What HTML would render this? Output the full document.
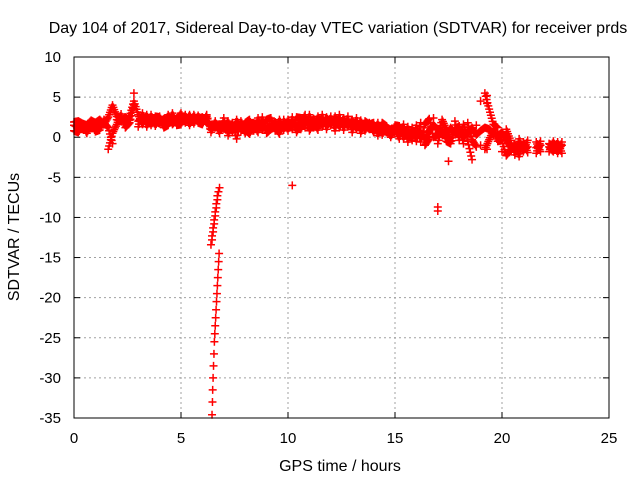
<!DOCTYPE html>
<html><head><meta charset="utf-8"><style>
body{margin:0;background:#fff}
svg{display:block;font-family:"Liberation Sans",sans-serif}
</style></head><body>
<svg id="chart" width="640" height="480">
<text x="338" y="33" font-size="16" text-anchor="middle">Day 104 of 2017, Sidereal Day-to-day VTEC variation (SDTVAR) for receiver prds</text>
<text x="0" y="0" font-size="16" text-anchor="middle" transform="translate(19,237) rotate(-90)">SDTVAR / TECUs</text>
<text x="340" y="471" font-size="16" text-anchor="middle">GPS time / hours</text>
<g id="grid"></g><g id="ticks"></g><g id="marks"></g>
<rect x="74" y="57" width="535" height="361" fill="none" stroke="#000" stroke-width="1"/>
</svg>
<script>
const xTicks=[0,5,10,15,20,25];
const yTicks=[10,5,0,-5,-10,-15,-20,-25,-30,-35];
const seriesA=[1.5,1.2,1.0,1.4,1.1,1.6,1.3,1.8,1.2,-0.8,
2.2,2.0,2.5,2.1,5.5,2.0,2.5,1.8,2.2,2.0,
1.7,2.3,2.0,2.6,1.9,2.4,2.2,2.6,2.0,2.3,
2.5,2.0,1.4,1.2,1.5,1.6,0.8,1.3,1.0,1.6,
0.5,1.4,1.8,1.2,1.6,1.0,1.4,1.9,1.2,1.6,
1.3,1.8,1.5,1.0,2.0,1.6,2.3,1.5,2.0,1.8,
2.2,1.6,2.1,1.7,2.0,1.4,1.8,1.2,1.5,1.0,
1.3,0.9,1.2,0.6,1.0,0.8,0.5,1.0,0.3,0.7,
0.2,0.6,-0.3,0.8,1.5,1.0,0.5,0.2,1.2,0.5,
0.8,0.0,0.6,1.2,0.3,0.8,1.2,1.0,0.5,0.2,
0.6,-0.3,-1.2,-1.5,-1.0,-1.6,-1.2,null,-1.3,-1.0,
null,-0.8,-1.2,-1.5,-1.0];
const seriesB=[1.9,2.0,1.7,1.5,2.1,1.8,2.2,1.6,2.5,4.0,
2.6,2.4,1.8,2.6,4.5,2.8,1.6,2.8,1.5,2.6,
2.5,1.5,2.8,1.6,2.2,3.0,1.8,2.8,1.7,2.7,
1.8,2.6,1.0,1.8,1.0,1.2,2.0,0.6,2.2,0.8,
1.8,2.2,0.8,2.4,0.9,2.2,2.4,0.8,2.2,0.9,
2.2,1.0,2.5,2.4,1.2,2.8,1.2,2.6,1.3,2.5,
1.5,2.6,1.2,2.4,1.3,2.2,1.0,2.1,0.8,1.8,
0.6,1.8,0.3,1.4,0.2,1.5,1.4,-0.2,1.3,-0.4,
1.5,-0.6,1.6,2.3,0.0,0.3,2.2,1.0,-0.5,2.0,
-0.4,1.6,-0.5,-2.8,1.5,-1.0,5.5,3.5,1.6,1.2,
-1.8,1.0,-0.4,-2.2,-0.2,-1.8,-0.4,null,-2.0,-0.5,
null,-1.8,-0.5,-2.0,-0.6];
const seriesC=[0.8,0.6,1.5,0.5,1.7,0.7,0.9,2.2,-1.5,0.5,
1.6,2.9,1.2,1.8,4.0,1.3,3.0,1.3,2.8,1.4,
2.6,1.2,1.5,3.0,1.5,1.6,2.8,1.5,2.8,1.8,
1.6,2.8,0.6,2.0,0.5,2.4,0.2,1.8,-0.2,2.0,
1.0,0.4,1.5,0.6,2.5,0.5,1.0,1.3,0.4,2.2,
0.8,2.5,0.6,1.8,2.8,0.8,1.8,0.9,2.8,1.0,
2.6,0.8,2.8,0.9,2.6,0.6,2.4,0.5,2.0,1.6,
1.8,0.2,1.8,1.4,0.0,1.2,-0.2,1.6,-0.6,1.2,
-0.5,1.8,-1.0,-0.2,2.4,-0.8,1.2,-0.5,-0.8,1.0,
1.4,-0.8,1.8,-0.3,-1.2,4.5,-1.5,-0.3,0.9,-0.5,
-0.4,-2.3,-1.6,-0.8,-2.4,-0.6,-1.9,null,-0.6,-1.8,
null,-1.2,-1.8,-0.6,-2.0];
const gridHours=[];
for(let i=0;i<seriesA.length;i++) gridHours.push(i*0.2);
const dropHours1=[6.8,6.75,6.7,6.7,6.65,6.65,6.6,6.6,6.55,6.55,6.5,6.5,6.45,6.45,6.4];
const dropVals1=[-6.3,-6.8,-7.3,-7.8,-8.3,-8.8,-9.3,-9.8,-10.3,-10.8,-11.3,-11.8,-12.3,-12.8,-13.4];
const dropHours2=[6.78,6.76,6.74,6.72,6.7,6.68,6.66,6.64,6.62,6.6,6.58,6.56,6.54,6.52,6.5,6.48,6.47,6.45];
const dropVals2=[-14.5,-15.5,-16.5,-17.5,-18.5,-19.5,-20.5,-21.5,-22.5,-23.5,-24.5,-25.5,-27,-28.5,-30,-31.5,-33,-34.6];
const outlierHours=[10.2,17.0,17.0,17.5,19.3,19.3,19.3];
const outlierVals=[-6.0,-8.7,-9.2,-3.0,-1.5,5.2,4.2];

const NS='http://www.w3.org/2000/svg';
const X0=74,X1=609,Y0=57,Y1=418;
function xs(h){return X0+(h-0)/(25-0)*(X1-X0);}
function ys(v){return Y1-(v-(-35))/(10-(-35))*(Y1-Y0);}
function mk(tag,attrs,parent){const e=document.createElementNS(NS,tag);for(const k in attrs)e.setAttribute(k,attrs[k]);parent.appendChild(e);return e;}
const grid=document.getElementById('grid'),ticks=document.getElementById('ticks'),marks=document.getElementById('marks');
xTicks.forEach(t=>{
  const x=xs(t);
  if(t>0&&t<25){const g=mk('line',{x1:x,x2:x,y1:Y0,y2:Y1,stroke:'#a0a0a0','stroke-dasharray':'2,3'},grid);
  
  }
  mk('line',{x1:x,x2:x,y1:Y1,y2:Y1-6,stroke:'#000'},ticks);
  mk('line',{x1:x,x2:x,y1:Y0,y2:Y0+6,stroke:'#000'},ticks);
  const l=mk('text',{x:x,y:443,'font-size':15,'text-anchor':'middle'},ticks);l.textContent=t;
  
  
});
yTicks.forEach(t=>{
  const y=ys(t);
  if(t<10&&t>-35){const g=mk('line',{x1:X0,x2:X1,y1:y,y2:y,stroke:'#a0a0a0','stroke-dasharray':'2,3'},grid);
  
  }
  mk('line',{x1:X0,x2:X0+6,y1:y,y2:y,stroke:'#000'},ticks);
  mk('line',{x1:X1,x2:X1-6,y1:y,y2:y,stroke:'#000'},ticks);
  const l=mk('text',{x:61,y:y+5,'font-size':15,'text-anchor':'end'},ticks);l.textContent=t;
  
  
});
function cross(h,v){
  if(v===null)return;
  const x=xs(h),y=ys(v);
  const p=mk('path',{d:`M${x-4} ${y}H${x+4}M${x} ${y-4}V${y+4}`,stroke:'#f00','stroke-width':1.5,fill:'none'},marks);
  
  
}
[seriesA,seriesB,seriesC].forEach(s=>{
  s.forEach((v,i)=>{
    cross(gridHours[i],v);
    const n=s[i+1];
    if(v!==null&&n!==undefined&&n!==null&&Math.abs(n-v)<2.5){
      for(let k=1;k<5;k++) cross(gridHours[i]+0.04*k,v+(n-v)*k/5);
    }
  });
});
dropHours1.forEach((h,i)=>cross(h,dropVals1[i]));
dropHours2.forEach((h,i)=>cross(h,dropVals2[i]));
outlierHours.forEach((h,i)=>cross(h,outlierVals[i]));
</script>
</body></html>
